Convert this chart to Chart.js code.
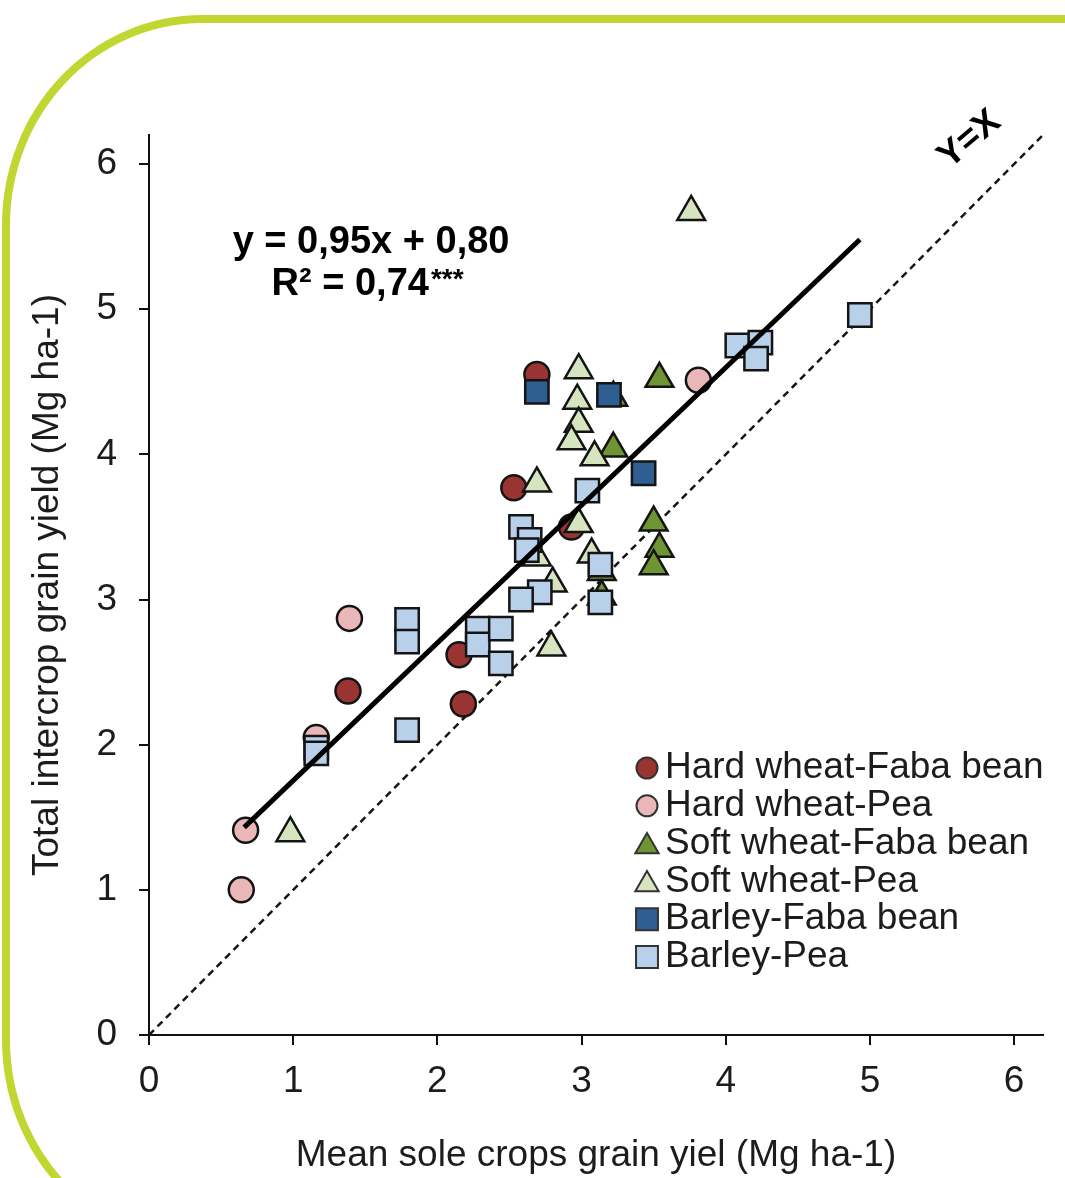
<!DOCTYPE html>
<html>
<head>
<meta charset="utf-8">
<script src="https://cdn.jsdelivr.net/npm/chart.js@4.4.0/dist/chart.umd.min.js"></script>
<style>
  html, body { margin: 0; padding: 0; background: #fff; }
  #wrap { position: relative; width: 1065px; height: 1178px; overflow: hidden; background: #fff; }
  #frame {
    position: absolute; left: 2px; top: 15px; width: 1300px; height: 1235px;
    border: 8px solid #c0d732; box-sizing: border-box;
    border-radius: 200px 0 0 200px / 210px 0 0 210px;
  }
  #chart { position: absolute; left: 0; top: 0; }
</style>
</head>
<body>
<div id="wrap">
  <div id="frame"></div>
  <canvas id="chart" width="1065" height="1178"></canvas>
</div>
<script>
// Series (x = mean sole crop yield, y = total intercrop yield)
const seriesLabels = ['Hard wheat-Faba bean', 'Hard wheat-Pea', 'Soft wheat-Faba bean', 'Soft wheat-Pea', 'Barley-Faba bean', 'Barley-Pea'];

const hardFabaX = [2.69, 2.53, 2.93, 1.38, 2.15, 2.18];
const hardFabaY = [4.55, 3.77, 3.50, 2.37, 2.62, 2.28];

const hardPeaX = [1.39, 1.16, 0.67, 0.64, 3.81];
const hardPeaY = [2.87, 2.05, 1.41, 1.00, 4.51];

const softFabaX = [3.54, 3.22, 3.50, 3.54, 3.50, 3.22, 3.14, 3.14];
const softFabaY = [4.52, 4.04, 3.53, 3.35, 3.23, 4.39, 3.19, 3.02];

const softPeaX = [3.76, 2.98, 2.97, 2.98, 2.93, 3.09, 2.69, 2.98, 3.07, 2.69, 2.80, 2.79, 0.98];
const softPeaY = [5.67, 4.58, 4.37, 4.21, 4.09, 3.98, 3.80, 3.52, 3.31, 3.29, 3.11, 2.67, 1.39];

const barleyFabaX = [2.69, 3.19, 3.43];
const barleyFabaY = [4.43, 4.41, 3.87];

const barleyPeaX = [4.93, 4.08, 4.24, 4.21, 3.04, 2.58, 2.64, 2.62, 2.71, 2.58, 3.13, 3.13, 1.79, 1.79, 2.28, 2.28, 2.44, 2.44, 1.79, 1.16, 1.16];
const barleyPeaY = [4.96, 4.75, 4.77, 4.66, 3.75, 3.50, 3.41, 3.34, 3.05, 3.00, 3.24, 2.98, 2.86, 2.71, 2.80, 2.69, 2.80, 2.56, 2.10, 1.98, 1.94];

// Regression line end points (y = 0,95x + 0,80) and the 1:1 line
const fitX = [0.66, 4.93];
const fitY = [1.43, 5.48];
const identityX = [0, 6.2];
const identityY = [0, 6.2];

const xTicks = [0, 1, 2, 3, 4, 5, 6];
const yTicks = [0, 1, 2, 3, 4, 5, 6];

const xTitle = 'Mean sole crops grain yiel (Mg ha-1)';
const yTitle = 'Total intercrop grain yield (Mg ha-1)';
const equationText = 'y = 0,95x + 0,80';
const r2Text = 'R\u00B2 = 0,74';
const r2Stars = '***';

const FONT = "'Liberation Sans', Arial, sans-serif";
const INK = '#1c1c1c';

const seriesStyles = [
    { pointStyle: 'circle', fill: '#9a3432', radius: 12.5 },
    { pointStyle: 'circle', fill: '#e9b7b7', radius: 12.5 },
    { pointStyle: 'triangle', fill: '#6f9434', radius: 16 },
    { pointStyle: 'triangle', fill: '#d6e5c0', radius: 16 },
    { pointStyle: 'rect', fill: '#2f5e92', radius: 16.5 },
    { pointStyle: 'rect', fill: '#b9d0ea', radius: 16.5 }
];
// drawing order: squares on top, circles at the bottom
const seriesOrder = [5, 4, 3, 2, 1, 0];

const seriesX = [hardFabaX, hardPeaX, softFabaX, softPeaX, barleyFabaX, barleyPeaX];
const seriesY = [hardFabaY, hardPeaY, softFabaY, softPeaY, barleyFabaY, barleyPeaY];

function toPoints(xs, ys) {
    return xs.map((x, i) => ({ x: x, y: ys[i] }));
}

const datasets = seriesLabels.map((label, i) => ({
    label: label,
    data: toPoints(seriesX[i], seriesY[i]),
    pointStyle: seriesStyles[i].pointStyle,
    pointRadius: seriesStyles[i].radius,
    pointHoverRadius: seriesStyles[i].radius,
    backgroundColor: seriesStyles[i].fill,
    borderColor: '#141414',
    borderWidth: 2.5,
    showLine: false,
    order: seriesOrder[i]
}));

datasets.push({
    label: 'fit',
    data: toPoints(fitX, fitY),
    showLine: true,
    borderColor: '#000',
    borderWidth: 5,
    pointRadius: 0,
    order: -1
});

datasets.push({
    label: 'Y=X',
    data: toPoints(identityX, identityY),
    showLine: true,
    borderColor: '#151515',
    borderWidth: 2.5,
    borderDash: [7, 5],
    pointRadius: 0,
    order: 10
});

/**
 * Equation, Y=X label and the legend box drawn on top of the plot
 */
const annotations = {
    id: 'annotations',
    afterDraw(chart) {
        const ctx = chart.ctx;
        const xs = chart.scales.x;
        const ys = chart.scales.y;

        ctx.save();
        ctx.fillStyle = '#000';
        ctx.textBaseline = 'middle';

        // regression equation
        ctx.font = `bold 38px ${FONT}`;
        ctx.textAlign = 'center';
        ctx.fillText(equationText, xs.getPixelForValue(1.54), ys.getPixelForValue(5.46));
        ctx.textAlign = 'left';
        const r2x = xs.getPixelForValue(0.85);
        const r2y = ys.getPixelForValue(5.17);
        ctx.fillText(r2Text, r2x, r2y);
        const w = ctx.measureText(r2Text).width;
        ctx.font = `bold 28px ${FONT}`;
        ctx.fillText(r2Stars, r2x + w + 2, r2y - 4);

        // Y=X label
        ctx.save();
        ctx.translate(xs.getPixelForValue(5.69), ys.getPixelForValue(6.17));
        ctx.rotate(-40 * Math.PI / 180);
        ctx.font = `bold 36px ${FONT}`;
        ctx.textAlign = 'center';
        ctx.fillText('Y=X', 0, 0);
        ctx.restore();

        // legend
        const lx = 647;
        const ly = 768;
        const step = 37.8;
        const legendRadius = { circle: 10.5, triangle: 13.5, rect: 15.5 };
        seriesLabels.forEach((label, i) => {
            const y = ly + i * step;
            const st = seriesStyles[i];
            ctx.fillStyle = st.fill;
            ctx.strokeStyle = '#333';
            ctx.lineWidth = 2;
            Chart.helpers.drawPoint(ctx, {
                pointStyle: st.pointStyle,
                radius: legendRadius[st.pointStyle],
                rotation: 0,
                borderWidth: 2
            }, lx, st.pointStyle === 'triangle' ? y + 3 : y);
            ctx.fillStyle = INK;
            ctx.font = `37px ${FONT}`;
            ctx.textAlign = 'left';
            ctx.fillText(label, lx + 18, y);
        });

        ctx.restore();
    }
};

const axisCommon = {
    type: 'linear',
    min: 0,
    max: 6.2,
    grid: {
        display: true,
        drawOnChartArea: false,
        drawTicks: true,
        tickLength: 10,
        color: '#111',
        lineWidth: 2
    },
    border: { display: true, color: '#111', width: 2 }
};

const ctx = document.getElementById('chart').getContext('2d');
new Chart(ctx, {
    type: 'scatter',
    data: { datasets: datasets },
    options: {
        responsive: false,
        animation: false,
        devicePixelRatio: 1,
        layout: { padding: { top: 135, right: 22, left: 0, bottom: 0 } },
        plugins: {
            legend: { display: false },
            tooltip: { enabled: false }
        },
        scales: {
            x: {
                ...axisCommon,
                afterBuildTicks: s => { s.ticks = xTicks.map(v => ({ value: v })); },
                afterFit: s => { s.height = 143; },
                ticks: { padding: 15, color: INK, font: { family: FONT, size: 37 } },
                title: {
                    display: true, text: xTitle, color: INK,
                    font: { family: FONT, size: 37 },
                    padding: { top: 0, bottom: 0 }
                }
            },
            y: {
                ...axisCommon,
                afterBuildTicks: s => { s.ticks = yTicks.map(v => ({ value: v })); },
                afterFit: s => { s.width = 149; },
                ticks: { padding: 22, color: INK, font: { family: FONT, size: 37 } },
                title: {
                    display: true, text: yTitle, color: INK,
                    font: { family: FONT, size: 37 },
                    padding: { top: 26, bottom: 0 }
                }
            }
        }
    },
    plugins: [annotations]
});
</script>
</body>
</html>
